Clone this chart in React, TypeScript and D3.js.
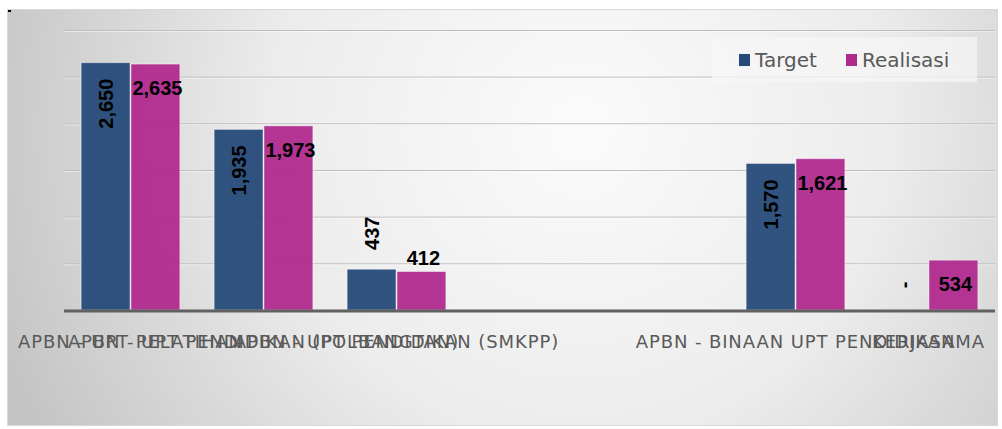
import React from "react";
import * as d3 from "d3";

const categories = [
  "APBN - UPT PELATIHAN",
  "APBN - UPT PENDIDIKAN (POLBANGTAN)",
  "APBN - UPT PENDIDIKAN (SMKPP)",
  "",
  " ",
  "APBN - BINAAN UPT PENDIDIKAN",
  "KERJASAMA",
];
const series = ["Target", "Realisasi"];
const targetValues: (number | null)[] = [2650, 1935, 437, null, null, 1570, 0];
const realisasiValues: (number | null)[] = [2635, 1973, 412, null, null, 1621, 534];
const yTicks = [0, 500, 1000, 1500, 2000, 2500, 3000];
const colors = ["#264a78", "#b02a8e"];

const W = 1002;
const H = 429;
const plotLeft = 64;
const plotRight = 995;
const plotTop = 30;
const plotBottom = 310;

const fmt = (v: number) => (v === 0 ? "-" : d3.format(",")(v));

export default function App() {
  const x = d3
    .scaleBand<string>()
    .domain(categories)
    .range([plotLeft, plotRight])
    .paddingInner(0.25)
    .paddingOuter(0.125);
  const xs = d3.scaleBand<string>().domain(series).range([0, x.bandwidth()]);
  const y = d3.scaleLinear().domain([0, 3000]).range([plotBottom, plotTop]);

  const allValues = [targetValues, realisasiValues];

  return (
    <svg
      width={W}
      height={H}
      style={{ position: "absolute", left: 0, top: 0, display: "block" }}
    >
      <defs>
        <radialGradient
          id="bg"
          gradientUnits="userSpaceOnUse"
          cx={580}
          cy={130}
          r={620}
        >
          <stop offset="0" stopColor="#fbfbfb" />
          <stop offset="0.5" stopColor="#ececec" />
          <stop offset="1" stopColor="#c4c4c4" />
        </radialGradient>
      </defs>
      <rect x={0} y={0} width={W} height={H} fill="#ffffff" />
      <rect
        x={7.5}
        y={9.5}
        width={990}
        height={416}
        fill="url(#bg)"
        stroke="#d9d9d9"
        strokeWidth={1}
      />
      <rect x={8} y={10} width={3} height={2} fill="#000" />

      {/* gridlines */}
      {yTicks
        .filter((t) => t > 0)
        .map((t) => (
          <g key={t}>
            <line
              x1={plotLeft}
              x2={plotRight}
              y1={y(t) + 0.5}
              y2={y(t) + 0.5}
              stroke="#bdbdbd"
              strokeWidth={1}
            />
            <line
              x1={plotLeft}
              x2={plotRight}
              y1={y(t) + 1.5}
              y2={y(t) + 1.5}
              stroke="#ffffff"
              strokeOpacity={0.5}
              strokeWidth={1}
            />
          </g>
        ))}

      {/* bars */}
      {categories.map((c, i) =>
        series.map((s, si) => {
          const v = allValues[si][i];
          if (v === null || v === 0) return null;
          const bx = (x(c) ?? 0) + (xs(s) ?? 0);
          return (
            <rect
              key={c + s}
              x={bx + 0.5}
              y={y(v)}
              width={xs.bandwidth() - 1}
              height={y(0) - y(v)}
              fill={colors[si]}
              fillOpacity={0.95}
              stroke="#ffffff"
              strokeOpacity={0.45}
              strokeWidth={1}
            />
          );
        })
      )}

      {/* baseline */}
      <line
        x1={plotLeft}
        x2={plotRight}
        y1={y(0) + 1}
        y2={y(0) + 1}
        stroke="#616161"
        strokeWidth={3}
      />

      {/* target labels (rotated) */}
      {categories.map((c, i) => {
        const v = targetValues[i];
        if (v === null) return null;
        const cx = (x(c) ?? 0) + (xs("Target") ?? 0) + xs.bandwidth() / 2;
        const h = y(0) - y(v);
        const cy = v === 0 ? y(0) - 25 : h > 70 ? y(v) + 41 : y(v) - 36;
        return (
          <text
            key={"t" + c}
            transform={`translate(${cx},${cy}) rotate(-90)`}
            textAnchor="middle"
            dominantBaseline="central"
            fontFamily="'Liberation Sans', Arial, sans-serif"
            fontWeight="bold"
            fontSize={20}
            fill="#000"
          >
            {fmt(v)}
          </text>
        );
      })}

      {/* realisasi labels */}
      {categories.map((c, i) => {
        const v = realisasiValues[i];
        if (v === null) return null;
        const cx = (x(c) ?? 0) + (xs("Realisasi") ?? 0) + xs.bandwidth() / 2 + 2;
        const h = y(0) - y(v);
        const cy = h > 40 ? y(v) + 24 : y(v) - 14;
        return (
          <text
            key={"r" + c}
            x={cx}
            y={cy}
            textAnchor="middle"
            dominantBaseline="central"
            fontFamily="'Liberation Sans', Arial, sans-serif"
            fontWeight="bold"
            fontSize={20}
            fill="#000"
          >
            {fmt(v)}
          </text>
        );
      })}

      {/* category labels */}
      {categories.map((c) => (
        <text
          key={"c" + c}
          x={(x(c) ?? 0) + x.bandwidth() / 2}
          y={341}
          textAnchor="middle"
          dominantBaseline="central"
          fontFamily="'DejaVu Sans', sans-serif"
          fontSize={18}
          letterSpacing={0.9}
          fill="#595959"
        >
          {c.trim()}
        </text>
      ))}

      {/* legend */}
      <rect
        x={712}
        y={37}
        width={265}
        height={45}
        fill="#f6f6f6"
        fillOpacity={0.7}
      />
      {series.map((s, si) => {
        const lx = si === 0 ? 739 : 846;
        return (
          <g key={"l" + s}>
            <rect x={lx} y={54} width={11} height={12} fill={colors[si]} />
            <text
              x={lx + 16}
              y={60}
              dominantBaseline="central"
              fontFamily="'DejaVu Sans', sans-serif"
              fontSize={20}
              fill="#595959"
            >
              {s}
            </text>
          </g>
        );
      })}
    </svg>
  );
}
